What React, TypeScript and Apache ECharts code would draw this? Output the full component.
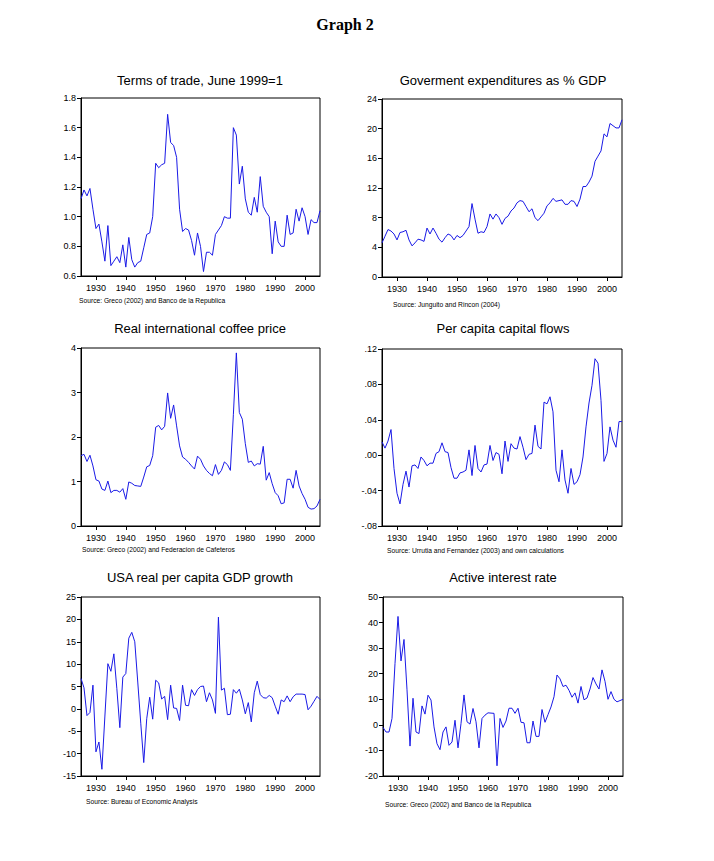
import React, { useEffect, useRef } from "react";
import * as echarts from "echarts";

const START_YEAR = 1925;
const END_YEAR = 2005;
const DECADE_TICKS = [1930, 1940, 1950, 1960, 1970, 1980, 1990, 2000];

const termsOfTrade = [
  1.12, 1.18, 1.14, 1.19, 1.05, 0.92, 0.95, 0.83, 0.7, 0.94,
  0.67, 0.7, 0.73, 0.69, 0.81, 0.66, 0.86, 0.71, 0.66, 0.69,
  0.7, 0.79, 0.88, 0.89, 1.0, 1.36, 1.33, 1.35, 1.36, 1.69,
  1.5, 1.48, 1.4, 1.05, 0.9, 0.92, 0.91, 0.84, 0.74, 0.89,
  0.8, 0.63, 0.76, 0.76, 0.74, 0.88, 0.91, 0.94, 1.0, 0.99,
  0.99, 1.6, 1.55, 1.22, 1.34, 1.12, 1.03, 1.01, 1.13, 1.03,
  1.27, 1.07, 1.03, 1.0, 0.75, 0.97, 0.83, 0.8, 0.8, 1.01,
  0.88, 0.89, 1.05, 0.97, 1.06, 1.0, 0.88, 0.98, 0.96, 0.96,
  1.04,
];

const govExpenditure = [
  4.6, 5.5, 6.4, 6.2, 5.8, 5.0, 6.0, 6.1, 6.3, 5.0,
  4.2, 4.6, 5.1, 5.0, 4.8, 6.6, 5.8, 6.6, 5.9, 5.1,
  4.7, 5.3, 5.8, 5.6, 5.0, 5.6, 5.3, 5.6, 6.2, 6.8,
  9.9, 7.8, 5.9, 6.1, 6.0, 6.8, 8.5, 7.8, 8.5, 8.0,
  7.1, 7.9, 8.2, 8.9, 9.3, 10.0, 10.3, 10.2, 9.5, 8.8,
  9.2, 8.0, 7.6, 8.1, 8.6, 9.6, 10.0, 10.6, 10.2, 10.3,
  10.4, 9.8, 9.8, 10.3, 10.2, 9.5, 10.5, 12.2, 12.2, 12.8,
  13.6, 15.6, 16.3, 17.0, 19.3, 18.9, 20.7, 20.4, 20.1, 20.1,
  21.2,
];

const coffeePrice = [
  1.58, 1.61, 1.45, 1.59, 1.35, 1.04, 1.01, 0.83, 0.8, 1.01,
  0.75, 0.8, 0.8, 0.76, 0.84, 0.6, 0.99, 0.96, 0.91, 0.9,
  0.89, 1.1, 1.33, 1.36, 1.58, 2.22, 2.26, 2.16, 2.24, 2.99,
  2.42, 2.72, 2.25, 1.8, 1.55, 1.5, 1.43, 1.35, 1.28, 1.57,
  1.5, 1.35, 1.25, 1.18, 1.13, 1.38, 1.16, 1.25, 1.44, 1.38,
  1.25, 2.5, 3.89, 2.55, 2.4, 1.85, 1.43, 1.46, 1.35, 1.4,
  1.39, 1.79, 1.03, 1.2, 0.95, 0.75, 0.68, 0.5, 0.52, 1.05,
  1.05, 0.85, 1.25, 0.9, 0.73, 0.6, 0.42, 0.38, 0.39, 0.45,
  0.6,
];

const capitalFlows = [
  0.015, 0.008, 0.016, 0.029, -0.015, -0.043, -0.055, -0.033, -0.018, -0.036,
  -0.012, -0.011, -0.015, -0.002, -0.006, -0.012, -0.009, -0.009, 0.002, 0.004,
  0.014, 0.004, 0.003, -0.014, -0.026, -0.026, -0.02, -0.019, -0.017, 0.006,
  -0.023, 0.011, -0.015, -0.019, -0.011, -0.01, 0.011, -0.006, 0.003, 0.001,
  -0.021, 0.016, -0.007, 0.013, 0.008, 0.007, 0.021, 0.009, -0.005, 0.001,
  0.002, 0.034, 0.01, 0.007, 0.06, 0.058, 0.066, 0.049, -0.017, -0.03,
  0.006, -0.028, -0.043, -0.015, -0.033, -0.03, -0.022, -0.002, 0.032, 0.059,
  0.079, 0.109, 0.104, 0.062, -0.007, 0.002, 0.032, 0.017, 0.009, 0.038,
  0.038,
];

const usaGdpGrowth = [
  6.8, 4.7, -1.5, -0.8, 5.3, -9.6, -7.4, -13.5, -1.6, 10.1,
  8.4, 12.3, 4.5, -4.2, 7.1, 7.9, 15.8, 17.1, 15.0, 6.0,
  -3.2, -12.0, -2.2, 2.6, -2.3, 6.4, 5.8, 2.2, 2.8, -2.4,
  5.3, 0.2, 0.1, -2.6, 5.3, 0.8, 0.7, 4.3, 3.0, 4.3,
  5.0, 5.1, 1.6, 3.6, 2.0, -1.0, 20.5, 4.2, 4.6, -1.3,
  -1.2, 4.3, 3.5, 4.4, 2.0, -1.1, 1.4, -2.9, 3.6, 6.2,
  3.2, 2.5, 2.4, 3.0, 2.5, 0.6, -1.2, 2.0, 1.6, 2.9,
  1.6, 2.7, 3.3, 3.3, 3.3, 3.2, -0.2, 0.6, 1.7, 2.8,
  2.1,
];

const interestRate = [
  -1.0, -2.8, -2.8, 2.5, 24.0, 42.4, 25.0, 33.4, 13.7, -8.3,
  10.4, -2.8, -3.4, 7.4, 4.2, 11.6, 9.7, -0.8, -7.4, -9.7,
  -2.8, -0.8, -8.0, -6.7, 1.8, -9.0, 0.5, 11.7, 1.2, 0.3,
  6.4, 1.2, -9.0, 2.5, 3.8, 4.7, 4.6, 4.5, -16.0, 2.5,
  -1.0, 1.5, 6.5, 6.5, 4.5, 6.5, 1.0, 0.8, -7.0, -7.0,
  1.5, -4.5, -4.5, 6.0, 1.0, 4.0, 7.0, 11.0, 19.5, 18.0,
  15.0, 15.5, 13.5, 10.8, 12.5, 8.5, 15.0, 9.8, 10.5, 14.0,
  18.5, 16.0, 14.0, 21.5, 17.0, 10.0, 13.0, 10.0, 9.0, 9.5,
  10.0,
];

const panelTitles = [
  "Terms of trade, June 1999=1",
  "Goverment expenditures as % GDP",
  "Real international coffee price",
  "Per capita capital flows",
  "USA real per capita GDP growth",
  "Active interest rate",
];

const panelSources = [
  "Source: Greco (2002) and Banco de la Republica",
  "Source: Junguito and Rincon (2004)",
  "Source: Greco (2002) and Federacion de Cafeteros",
  "Source: Urrutia and Fernandez (2003) and own calculations",
  "Source: Bureau of Economic Analysis",
  "Source: Greco (2002) and Banco de la Republica",
];

const seriesList = [termsOfTrade, govExpenditure, coffeePrice, capitalFlows, usaGdpGrowth, interestRate];

const yRanges = [
  { min: 0.6, max: 1.8, interval: 0.2 },
  { min: 0, max: 24, interval: 4 },
  { min: 0, max: 4, interval: 1 },
  { min: -0.08, max: 0.12, interval: 0.04 },
  { min: -15, max: 25, interval: 5 },
  { min: -20, max: 50, interval: 10 },
];

const FONT = '"Liberation Sans", Arial, sans-serif';
const LINE_COLOR = "#1a1ae6";

const grids = [
  { left: 81, top: 98, width: 239, height: 178 },
  { left: 382, top: 99, width: 240, height: 178 },
  { left: 81, top: 348, width: 239, height: 178 },
  { left: 382, top: 349, width: 240, height: 177 },
  { left: 81, top: 597, width: 239, height: 179 },
  { left: 383, top: 597, width: 240, height: 179 },
];

const titlePos = [
  [200, 80],
  [503, 80],
  [200, 328],
  [503, 328],
  [200, 577],
  [503, 577],
];

const sourcePos = [
  [79, 300],
  [393, 304],
  [82, 549],
  [387, 550],
  [86, 801],
  [385, 804],
];

function yFormatter(i: number) {
  return (v: number) => {
    if (i === 0) return v.toFixed(1);
    if (i === 3) {
      const r = Math.round(v * 100);
      const s = Math.abs(r).toString().padStart(2, "0");
      return (r < 0 ? "-" : "") + "." + s;
    }
    return String(Math.round(v));
  };
}

export default function App() {
  const ref = useRef<HTMLDivElement>(null);
  useEffect(() => {
    if (!ref.current) return;
    const chart = echarts.init(ref.current, undefined, { renderer: "svg" });
    const axisLineStyle = { color: "#000", width: 1 };
    const option: any = {
      animation: false,
      backgroundColor: "#fff",
      grid: grids.map((g) => ({
        ...g,
        show: true,
        borderColor: "#000",
        borderWidth: 1,
        backgroundColor: "transparent",
        containLabel: false,
      })),
      xAxis: grids.map((_, i) => ({
        type: "value",
        gridIndex: i,
        min: START_YEAR,
        max: END_YEAR,
        axisLine: { show: true, onZero: false, lineStyle: axisLineStyle },
        axisTick: { show: true, inside: false, length: 4, lineStyle: axisLineStyle, customValues: DECADE_TICKS },
        axisLabel: {
          show: true,
          customValues: DECADE_TICKS,
          color: "#000",
          fontSize: 9,
          fontFamily: FONT,
          margin: 7,
          formatter: (v: number) => String(v),
        },
        splitLine: { show: false },
      })),
      yAxis: grids.map((_, i) => ({
        type: "value",
        gridIndex: i,
        min: yRanges[i].min,
        max: yRanges[i].max,
        interval: yRanges[i].interval,
        axisLine: { show: true, onZero: false, lineStyle: axisLineStyle },
        axisTick: { show: true, inside: false, length: 4, lineStyle: axisLineStyle },
        axisLabel: {
          show: true,
          color: "#000",
          fontSize: 9,
          fontFamily: FONT,
          margin: 5,
          formatter: yFormatter(i),
        },
        splitLine: { show: false },
      })),
      series: seriesList.map((vals, i) => ({
        type: "line",
        xAxisIndex: i,
        yAxisIndex: i,
        showSymbol: false,
        symbol: "none",
        lineStyle: { color: LINE_COLOR, width: 1 },
        data: vals.map((v, k) => [START_YEAR + k, v]),
        silent: true,
      })),
      graphic: [
        {
          type: "text",
          x: 345,
          y: 24,
          style: {
            text: "Graph 2",
            fontSize: 16,
            fontWeight: "bold",
            fontFamily: '"Liberation Serif", "Times New Roman", serif',
            fill: "#000",
            align: "center",
            verticalAlign: "middle",
          },
        },
        ...panelTitles.map((t, i) => ({
          type: "text",
          x: titlePos[i][0],
          y: titlePos[i][1],
          style: {
            text: t,
            fontSize: 13,
            fontFamily: FONT,
            fill: "#000",
            align: "center",
            verticalAlign: "middle",
          },
        })),
        ...panelSources.map((t, i) => ({
          type: "text",
          x: sourcePos[i][0],
          y: sourcePos[i][1],
          style: {
            text: t,
            fontSize: 6.7,
            fontFamily: FONT,
            fill: "#000",
            align: "left",
            verticalAlign: "middle",
          },
        })),
      ],
    };
    chart.setOption(option);
    return () => chart.dispose();
  }, []);
  return (
    <div
      ref={ref}
      style={{ position: "absolute", left: 0, top: 0, width: 714, height: 861, background: "#fff" }}
    />
  );
}
